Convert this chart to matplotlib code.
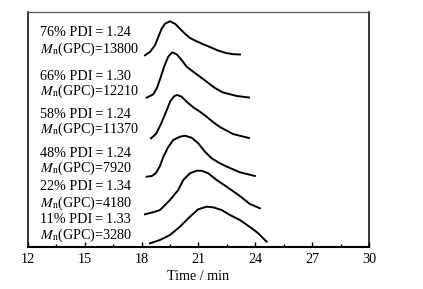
import matplotlib
matplotlib.use("Agg")
import matplotlib.pyplot as plt
from matplotlib.ticker import MultipleLocator

plt.rcParams['font.family'] = ['Liberation Serif', 'DejaVu Serif']
plt.rcParams['mathtext.fontset'] = 'stix'

# GPC traces, time in min, signal in arbitrary units (stacked)
t76 = [18.174, 18.438, 18.702, 18.876, 19.055, 19.230, 19.494, 19.757, 20.021, 20.285, 20.549, 20.902, 21.251, 21.604, 22.026, 22.449, 22.818, 23.187]
y76 = [191.7, 195, 201.7, 210, 218.3, 223.3, 225.7, 223.3, 218.3, 213.3, 209, 205.7, 202.7, 200, 196.5, 194, 192.8, 192.5]

t66 = [18.264, 18.612, 18.807, 18.992, 19.177, 19.404, 19.615, 19.847, 20.111, 20.375, 20.723, 21.077, 21.430, 21.868, 22.290, 23.029, 23.662]
y66 = [149.3, 152.7, 159, 169, 180, 190.3, 194.7, 192.7, 187, 180.3, 175.3, 170.3, 165.3, 159, 154.5, 151, 149.5]

t58 = [18.491, 18.755, 19.019, 19.282, 19.520, 19.731, 19.879, 20.111, 20.375, 20.723, 21.077, 21.430, 21.763, 22.132, 22.818, 23.662]
y58 = [108.7, 113, 123, 135, 146, 151, 152, 150.3, 145.3, 139.7, 135.3, 130.3, 125, 120, 113, 109]

t48 = [18.264, 18.544, 18.755, 18.966, 19.140, 19.404, 19.668, 20.021, 20.285, 20.639, 20.987, 21.340, 21.694, 22.132, 22.501, 23.187, 23.979]
y48 = [70.3, 71, 74, 81, 90, 100, 107, 110.3, 111.3, 109.3, 103.7, 95.3, 88.7, 83.7, 80.3, 74.7, 71]

t22 = [18.174, 18.702, 18.966, 19.494, 19.931, 20.195, 20.549, 20.902, 21.166, 21.515, 21.958, 22.485, 23.187, 23.715, 24.243]
y22 = [32.7, 35.3, 37, 47, 57, 67, 73.7, 76.3, 76.3, 73.7, 67, 60.3, 51, 43, 38.7]

t11 = [18.438, 18.966, 19.494, 20.021, 20.549, 20.987, 21.430, 21.778, 22.222, 22.660, 23.187, 23.715, 24.137, 24.596]
y11 = [3.7, 7, 12, 20.3, 30.3, 37.7, 40.3, 39.7, 37, 32, 27, 20, 14, 5.3]

conversions = ['76%', '66%', '58%', '48%', '22%', '11%']
pdi = ['1.24', '1.30', '1.24', '1.24', '1.34', '1.33']
mn = ['13800', '12210', '11370', '7920', '4180', '3280']

traces = [(t76, y76), (t66, y66), (t58, y58), (t48, y48), (t22, y22), (t11, y11)]
label_y = [(210.5, 194), (167, 152), (129, 114), (90.3, 75.3), (57, 40.3), (23.7, 8)]

fig = plt.figure(figsize=(4.23, 2.89), dpi=100)
ax = fig.add_axes([0.0662, 0.1453, 0.8061, 0.8132])

for t, y in traces:
    ax.plot(t, y, color='black', lw=1.4, solid_joinstyle='round')

thin = '\u2009'
for i in range(6):
    y1, y2 = label_y[i]
    ax.text(12.63, y1, conversions[i] + ' PDI' + thin + '=' + thin + pdi[i],
            fontsize=10.2, va='baseline', ha='left')
    ax.text(12.63, y2, r'$M_\mathrm{n}$(GPC)=' + mn[i],
            fontsize=10.2, va='baseline', ha='left')

ax.set_xlim(12, 30)
ax.set_ylim(0, 235)
ax.xaxis.set_major_locator(MultipleLocator(3))
ax.xaxis.set_minor_locator(MultipleLocator(1.5))
ax.set_yticks([])
ax.tick_params(axis='x', which='major', direction='in', length=3.5, width=1, labelsize=10.2, pad=4)
ax.tick_params(axis='x', which='minor', direction='in', length=2, width=1)
ax.set_xlabel('Time / min', fontsize=10.2, labelpad=3)

for s in ['left', 'right']:
    ax.spines[s].set_linewidth(1.1)
ax.spines['bottom'].set_linewidth(1.5)
ax.spines['top'].set_linewidth(0.9)
ax.spines['top'].set_color('#555555')

fig.savefig('out.png', dpi=100)
